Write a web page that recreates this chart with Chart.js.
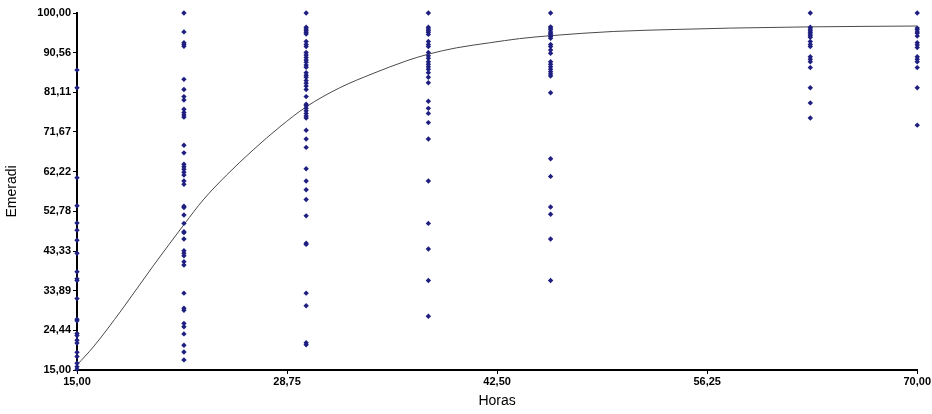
<!DOCTYPE html>
<html>
<head>
<meta charset="utf-8">
<script src="https://cdn.jsdelivr.net/npm/chart.js@4"></script>
<style>
  html, body { margin: 0; padding: 0; background: #fff; }
  #wrap { width: 932px; height: 414px; }
</style>
</head>
<body>
<div id="wrap"><canvas id="myChart"></canvas></div>
<script>
// hours at which each column of observations was taken
const horas = [15, 22, 30, 38, 46, 63, 70];

const emeradi15 = [86.4, 82.2, 60.8, 54.1, 50.0, 48.3, 45.9, 42.8, 38.4, 36.7, 36.3, 32.0, 27.1, 26.7, 23.7, 23.2, 22.1, 21.4, 19.2, 18.2, 16.6, 15.8, 15.2];
const emeradi22 = [100, 95.5, 92.9, 92.5, 92.1, 84.2, 81.8, 80.1, 79.3, 77.1, 76.3, 75.7, 75.2, 68.5, 66.7, 64.0, 63.4, 62.8, 62.1, 61.4, 60.0, 59.2, 54.0, 53.7, 51.9, 49.9, 47.9, 47.7, 46.2, 43.4, 42.8, 42.2, 40.8, 40.0, 33.3, 29.7, 29.2, 26.1, 25.3, 23.6, 20.9, 19.3, 17.4];
const emeradi30 = [100, 96.6, 96.2, 95.8, 95.4, 95.0, 93.2, 92.5, 92.0, 90.6, 90.0, 89.4, 88.8, 88.3, 87.6, 87.1, 85.8, 85.2, 84.7, 83.9, 83.3, 82.6, 81.8, 80.1, 78.3, 77.9, 77.3, 76.7, 76.1, 75.5, 75.0, 72.1, 70.0, 68.0, 62.9, 60.0, 57.9, 55.6, 51.7, 45.2, 44.9, 33.3, 30.3, 21.5, 21.0];
const emeradi38 = [100, 96.6, 96.2, 95.8, 95.4, 94.9, 93.2, 92.5, 92.0, 90.6, 89.8, 89.2, 88.4, 87.8, 87.2, 86.6, 85.8, 84.7, 83.4, 79.0, 77.3, 76.1, 73.9, 70.0, 60.0, 49.9, 43.8, 36.3, 27.8];
const emeradi46 = [100, 96.7, 96.4, 96.0, 95.5, 95.2, 94.8, 94.4, 94.0, 92.5, 92.0, 91.2, 90.4, 88.4, 87.8, 87.2, 86.6, 86.0, 85.5, 85.0, 81.0, 65.3, 61.1, 53.8, 52.1, 46.2, 36.3];
const emeradi63 = [100, 96.6, 96.2, 95.8, 95.4, 95.0, 94.6, 94.2, 93.2, 92.5, 92.0, 89.6, 89.0, 88.4, 87.0, 82.2, 78.6, 75.0];
const emeradi70 = [100, 96.4, 96.0, 95.5, 95.2, 94.5, 92.9, 92.4, 91.8, 89.6, 89.0, 88.4, 87.0, 82.2, 73.3];
const columns = [emeradi15, emeradi22, emeradi30, emeradi38, emeradi46, emeradi63, emeradi70];

// fitted curve
const curveX = [15, 16.07, 17.92, 19.99, 22.06, 23.26, 24.79, 26.53, 28.28, 30.02, 32.2, 34.38, 36.56, 38, 39.83, 42.0, 43.97, 46, 50.1, 54.4, 57.7, 62.9, 70];
const curveY = [16.2, 20.5, 29.3, 39.8, 49.9, 55.5, 61.4, 67.4, 72.9, 77.7, 82.2, 85.6, 88.6, 90.2, 91.7, 92.9, 93.9, 94.6, 95.6, 96.1, 96.4, 96.7, 96.9];

// axis ticks
const xTickValues = [15, 28.75, 42.5, 56.25, 70];
const xTickLabels = ['15,00', '28,75', '42,50', '56,25', '70,00'];
const yTickValues = [15, 24.44, 33.89, 43.33, 52.78, 62.22, 71.67, 81.11, 90.56, 100];
const yTickLabels = ['15,00', '24,44', '33,89', '43,33', '52,78', '62,22', '71,67', '81,11', '90,56', '100,00'];

const points = [];
columns.forEach((vals, i) => {
    vals.forEach(v => points.push({ x: horas[i], y: v }));
});
const curve = curveX.map((x, i) => ({ x: x, y: curveY[i] }));

const tickFont = { family: 'Liberation Sans', size: 11, weight: 'bold' };
const titleFont = { family: 'Liberation Sans', size: 14 };

const ctx = document.getElementById('myChart').getContext('2d');
const myChart = new Chart(ctx, {
    type: 'scatter',
    data: {
        datasets: [{
            label: 'Emeradi',
            data: points,
            pointStyle: 'rectRot',
            pointRadius: 2.7,
            backgroundColor: '#1f1f82',
            borderColor: '#1f1f82',
            borderWidth: 0,
            clip: false,
            order: 1
        }, {
            label: 'Ajuste',
            data: curve,
            showLine: true,
            pointRadius: 0,
            borderColor: '#4a4a4a',
            borderWidth: 1,
            cubicInterpolationMode: 'monotone',
            clip: false,
            order: 2
        }]
    },
    options: {
        responsive: true,
        maintainAspectRatio: false,
        animation: false,
        events: [],
        layout: { padding: { top: 13, right: 14, left: 0, bottom: 0 } },
        plugins: {
            legend: { display: false },
            tooltip: { enabled: false }
        },
        scales: {
            x: {
                type: 'linear',
                min: 15,
                max: 70,
                afterBuildTicks: axis => { axis.ticks = xTickValues.map(v => ({ value: v })); },
                afterFit: axis => { axis.height = 44; },
                ticks: {
                    color: '#000',
                    font: tickFont,
                    padding: 1,
                    maxRotation: 0,
                    callback: (v, i) => xTickLabels[i]
                },
                grid: { drawOnChartArea: false, drawTicks: true, tickLength: 4, color: '#000' },
                border: { color: '#000', width: 2 },
                title: { display: true, text: 'Horas', color: '#000', font: titleFont, padding: { top: 2 } }
            },
            y: {
                type: 'linear',
                min: 15,
                max: 100,
                afterBuildTicks: axis => { axis.ticks = yTickValues.map(v => ({ value: v })); },
                afterFit: axis => { axis.width = 77; },
                ticks: {
                    color: '#000',
                    font: tickFont,
                    padding: 2,
                    callback: (v, i) => yTickLabels[i]
                },
                grid: { drawOnChartArea: false, drawTicks: true, tickLength: 4, color: '#000' },
                border: { color: '#000', width: 2 },
                title: { display: true, text: 'Emeradi', color: '#000', font: titleFont, padding: { bottom: 2 } }
            }
        }
    }
});
</script>
</body>
</html>
